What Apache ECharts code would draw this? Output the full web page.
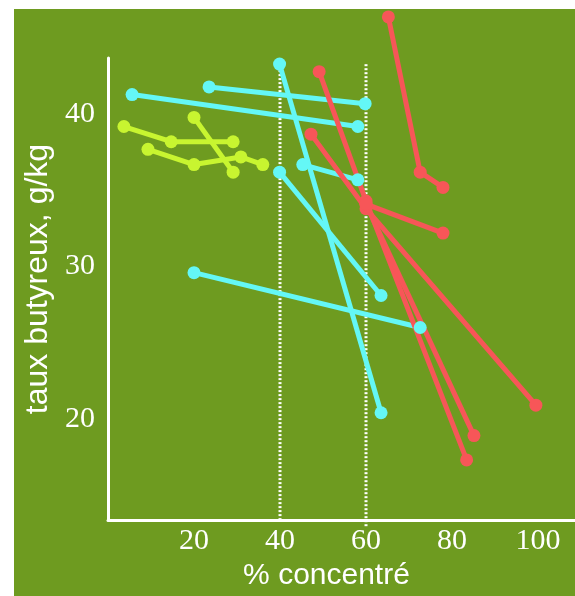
<!DOCTYPE html>
<html>
<head>
<meta charset="utf-8">
<script src="https://cdn.jsdelivr.net/npm/echarts@6/dist/echarts.min.js"></script>
<style>
  html, body { margin: 0; padding: 0; background: #fff; }
  #chart { position: absolute; left: 14px; top: 9px; width: 561px; height: 587px; background: #6e9b20; }
</style>
</head>
<body>
<div id="chart"></div>
<script>
// taux butyreux (g/kg) vs % concentré — one line per élevage
const xTicks = [20, 40, 60, 80, 100]
const yTicks = [20, 30, 40]

// dotted reference lines at 40 % and 60 %
const refX = [40, 60]
const refYLow = [13.35, 12.95]
const refYHigh = [43.75, 43.35]

const yellowLines = [
  [[3.7, 39.2], [14.7, 38.2], [29.1, 38.2]],
  [[20.0, 39.8], [29.1, 36.2]],
  [[9.3, 37.7], [20.0, 36.7], [30.9, 37.2], [36.0, 36.7]],
]

const cyanLines = [
  [[5.6, 41.3], [58.1, 39.2]],
  [[23.5, 41.8], [59.8, 40.7]],
  [[39.9, 43.3], [63.5, 20.4]],
  [[39.9, 36.2], [63.5, 28.1]],
  [[45.3, 36.7], [58.1, 35.7]],
  [[20.0, 29.6], [72.6, 26.0]],
]

const redLines = [
  [[65.2, 46.4], [72.6, 36.2], [77.9, 35.2]],
  [[49.1, 42.8], [60.0, 34.3], [83.4, 17.3]],
  [[47.2, 38.7], [60.0, 33.8], [99.5, 20.9]],
  [[60.0, 34.1], [77.9, 32.2]],
  [[60.0, 34.1], [85.1, 18.9]],
]

const COLORS = { yellow: '#c8f530', cyan: '#64f7f6', red: '#f75658' }

function groupSeries(lines, color) {
  return lines.map((pts) => ({
    type: 'line',
    data: pts,
    clip: false,
    silent: true,
    symbol: 'circle',
    symbolSize: 13,
    lineStyle: { color, width: 5 },
    itemStyle: { color },
  }))
}

const refSeries = refX.map((x, i) => ({
  type: 'line',
  data: [[x, refYLow[i]], [x, refYHigh[i]]],
  clip: false,
  silent: true,
  symbol: 'none',
  lineStyle: { color: '#ffffff', width: 3, type: [2, 2] },
}))

const chart = echarts.init(document.getElementById('chart'), null, { renderer: 'canvas' })
chart.setOption({
  animation: false,
  grid: { left: 94, top: 49, right: 0, bottom: 74 },
  xAxis: {
    type: 'value',
    min: 0,
    max: 108.6,
    axisLine: { lineStyle: { color: '#fff', width: 3 } },
    axisTick: { show: false },
    splitLine: { show: false },
    axisLabel: {
      customValues: xTicks,
      color: '#fff',
      fontFamily: 'Liberation Serif',
      fontSize: 30,
      margin: 6,
    },
    name: '% concentré',
    nameLocation: 'middle',
    nameGap: 40,
    nameTextStyle: {
      color: '#fff',
      fontFamily: 'Liberation Sans',
      fontSize: 30,
      padding: [0, 30, 0, 0],
    },
  },
  yAxis: {
    type: 'value',
    min: 13.35,
    max: 43.7,
    axisLine: { show: true, lineStyle: { color: '#fff', width: 3 } },
    axisTick: { show: false },
    splitLine: { show: false },
    axisLabel: {
      customValues: yTicks,
      color: '#fff',
      fontFamily: 'Liberation Serif',
      fontSize: 30,
      margin: 13,
    },
    name: 'taux butyreux, g/kg',
    nameLocation: 'middle',
    nameRotate: 90,
    nameGap: 53,
    nameTextStyle: {
      color: '#fff',
      fontFamily: 'Liberation Sans',
      fontSize: 32,
      padding: [0, 0, 0, 20],
    },
  },
  series: [
    ...refSeries,
    ...groupSeries(yellowLines, COLORS.yellow),
    ...groupSeries(cyanLines, COLORS.cyan),
    ...groupSeries(redLines, COLORS.red),
  ],
})
</script>
</body>
</html>
